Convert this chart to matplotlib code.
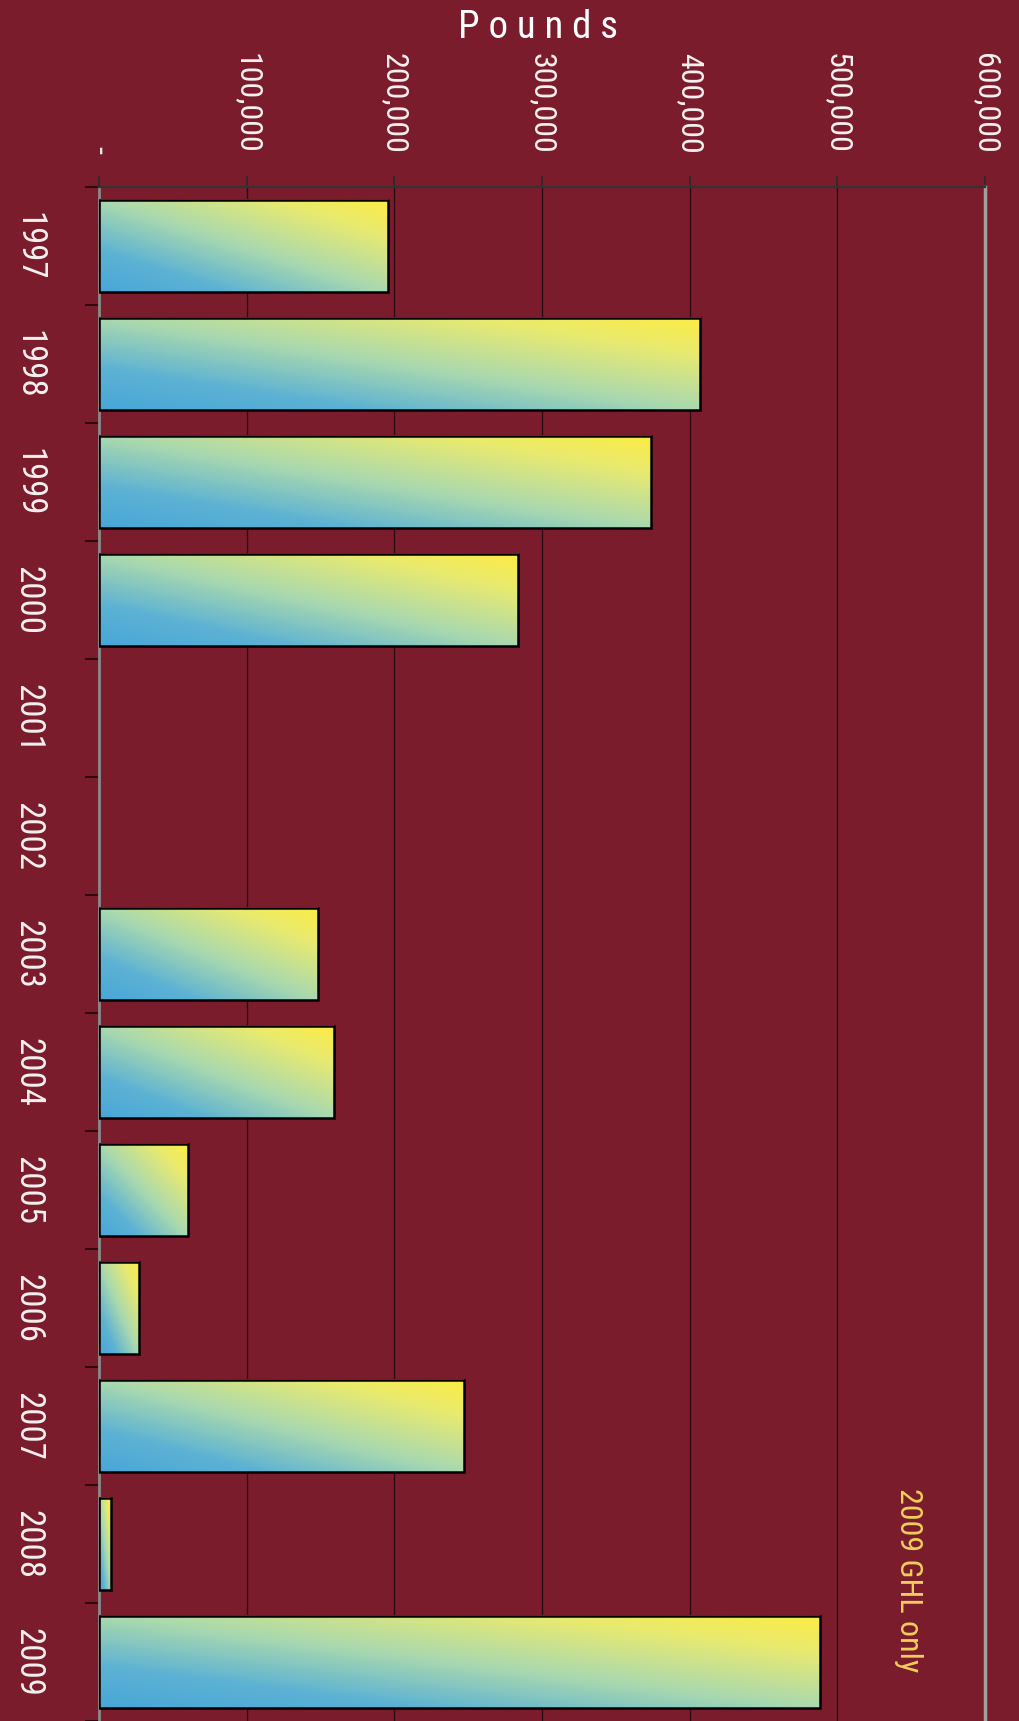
import os
import matplotlib
matplotlib.use('Agg')
import matplotlib.pyplot as plt
import numpy as np
from matplotlib import font_manager
from matplotlib.colors import LinearSegmentedColormap
from matplotlib.ticker import FuncFormatter, FixedLocator

# data
years = ['1997', '1998', '1999', '2000', '2001', '2002', '2003',
	'2004', '2005', '2006', '2007', '2008', '2009']
pounds = [196000, 407000, 374000, 284000, 0, 0, 148000,
	159000, 60000, 27000, 247000, 8000, 488000]
xticks = [0, 100000, 200000, 300000, 400000, 500000, 600000]
noteText = '2009 GHL only'
noteX, noteY = 548000, 11.31

bg = '#7b1c2d'
barCmap = LinearSegmentedColormap.from_list('bars',
	[(0.0, '#48a6d8'), (0.22, '#5cb2d4'), (0.5, '#aad9ae'), (0.8, '#e8ea70'), (1.0, '#fcec44')])

def findNarrow():
	# a condensed sans face, if the system has one; plain Liberation Sans otherwise
	prefs = ['RobotoCondensed-Regular.ttf', 'BarlowCondensed-Regular.ttf',
		'LiberationSansNarrow-Regular.ttf', 'DejaVuSansCondensed.ttf']
	files = {os.path.basename(f.fname): f.fname for f in font_manager.fontManager.ttflist}
	for p in prefs:
		if p in files:
			return files[p]
	return None

narrowFile = findNarrow()
def fp(size):
	if narrowFile:
		return font_manager.FontProperties(fname=narrowFile, size=size)
	return font_manager.FontProperties(family='Liberation Sans', size=size * 0.85)

def fmtPounds(v, pos):
	if v == 0:
		return '-'
	return '{:,.0f}'.format(v)

def gradientBar(ax, bar):
	x0, y0 = bar.get_x(), bar.get_y()
	w, h = bar.get_width(), bar.get_height()
	n = 80
	X, V = np.meshgrid(np.linspace(0, 1, n), np.linspace(0, 1, n))
	grad = (X + V) / 2.0
	ax.imshow(grad, extent=(x0, x0 + w, y0 + h, y0), origin='lower',
		cmap=barCmap, vmin=0, vmax=1, aspect='auto',
		interpolation='bicubic', zorder=2)

fig = plt.figure(figsize=(10.19, 17.21), dpi=100, facecolor=bg)
ax = fig.add_axes([99/1019, 0.0, 886/1019, 1534/1721], facecolor=bg)

idx = np.arange(len(years))
bars = ax.barh(idx, pounds, height=0.78, facecolor='none',
	edgecolor='black', linewidth=1.8, zorder=3)
for bar in bars:
	if bar.get_width() <= 0:
		bar.set_visible(False)
		continue
	gradientBar(ax, bar)

ax.set_xlim(0, 600000)
ax.set_ylim(len(years) - 0.5, -0.5)

# x axis on top, labels turned with the picture
ax.xaxis.tick_top()
ax.set_xticks(xticks)
ax.xaxis.set_major_formatter(FuncFormatter(fmtPounds))
ax.tick_params(axis='x', direction='out', length=8, width=1.2, color='#2a2a2a',
	labelcolor='#f6f0f0', pad=16, labelrotation=-90)
for lab in ax.get_xticklabels():
	lab.set_fontproperties(fp(23))

# years at the centres, tick marks between them
ax.set_yticks(idx)
ax.set_yticklabels(years)
ax.yaxis.set_minor_locator(FixedLocator(np.arange(-0.5, len(years), 1.0)))
ax.tick_params(axis='y', which='major', length=0, labelcolor='#f6f0f0',
	pad=39, labelrotation=-90)
for lab in ax.get_yticklabels():
	lab.set_fontproperties(fp(25))
	lab.set_va('center')
ax.tick_params(axis='y', which='minor', direction='out', length=10, width=1.4,
	color='#2a0a10')

ax.grid(axis='x', color='#2a0a10', linewidth=1.0)
ax.set_axisbelow(True)

ax.spines['bottom'].set_visible(False)
ax.spines['top'].set_color('#333333')
ax.spines['top'].set_linewidth(1.6)
ax.spines['left'].set_color('#8a8a8a')
ax.spines['left'].set_linewidth(2.0)
ax.spines['right'].set_color('#a0a0a0')
ax.spines['right'].set_linewidth(2.5)

ax.text(noteX, noteY, noteText, rotation=-90, ha='center', va='center',
	color='#f0cf5a', fontproperties=fp(23))

fig.text(538/1019, 1 - 27/1721, 'P o u n d s', ha='center', va='center',
	color='white', fontproperties=fp(28))

fig.savefig('out.png', dpi=100, facecolor=bg)
